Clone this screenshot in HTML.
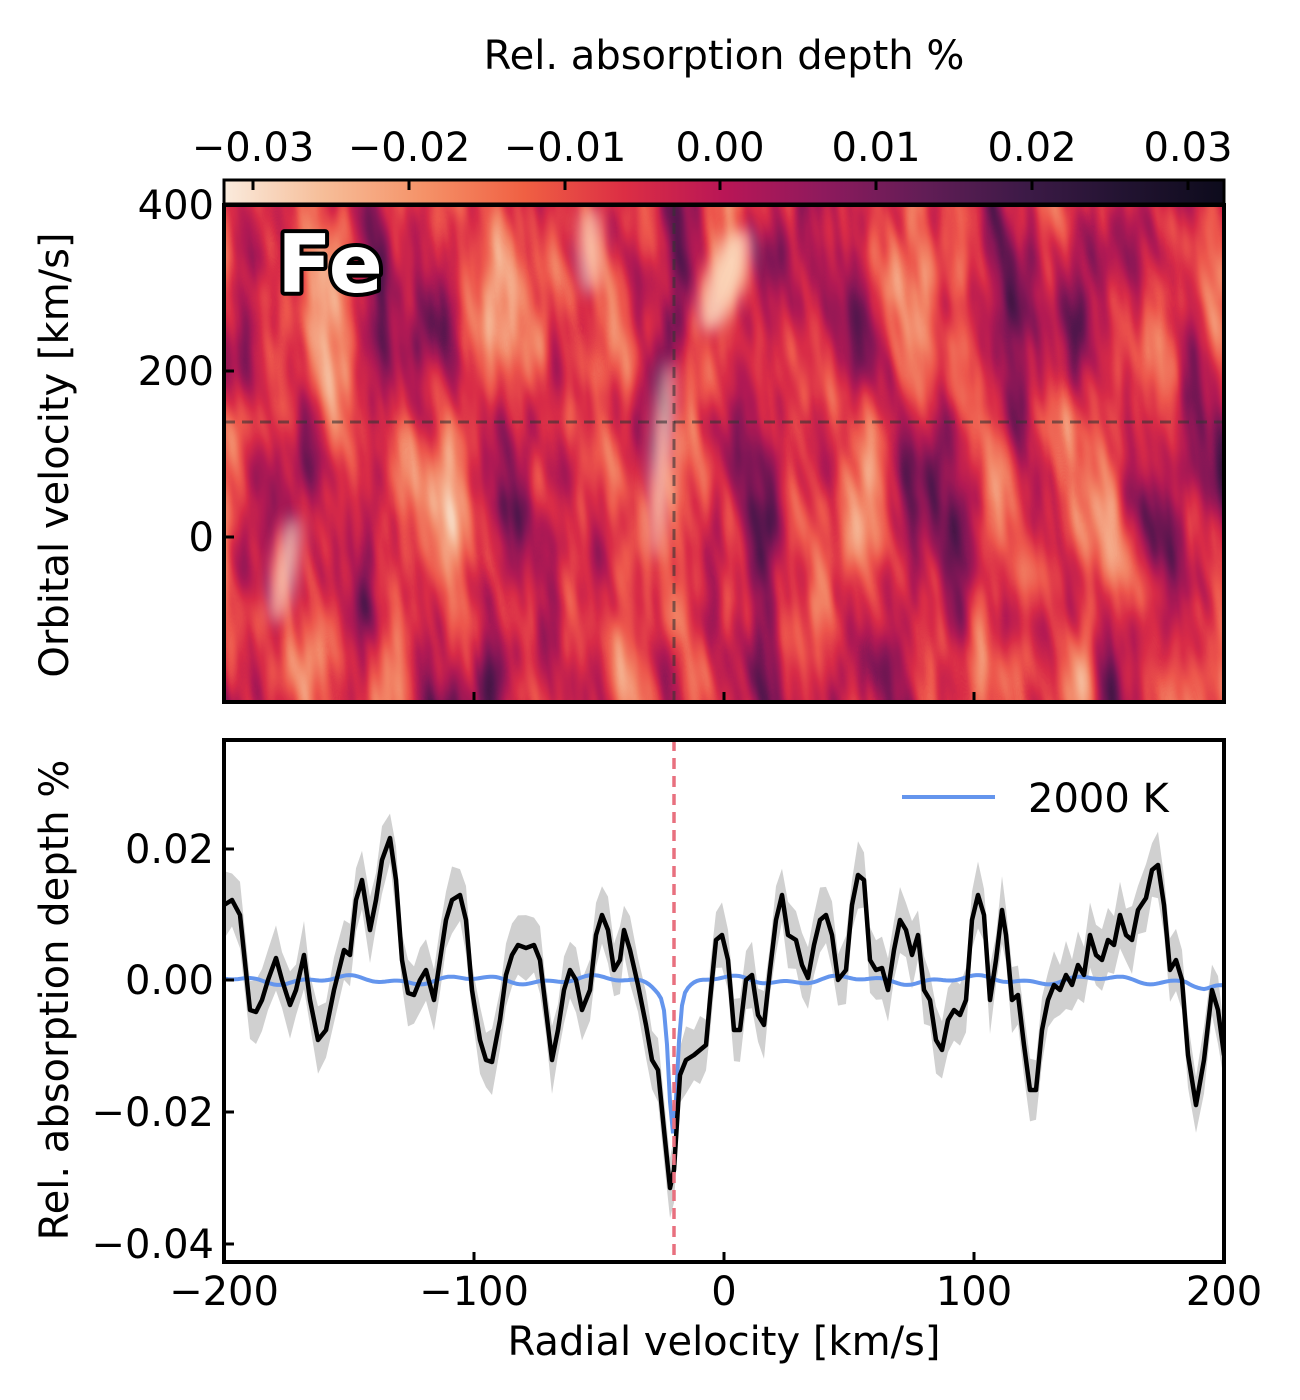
<!DOCTYPE html>
<html><head><meta charset="utf-8"><style>
html,body{margin:0;padding:0;background:#fff}
svg{display:block}
text{font-family:"DejaVu Sans","Liberation Sans",sans-serif;fill:#000}
</style></head><body>
<svg id="s" width="1300" height="1400" viewBox="0 0 1300 1400" xmlns="http://www.w3.org/2000/svg">
<defs>
<linearGradient id="cb" x1="0" x2="1" y1="0" y2="0">
<stop offset="0" stop-color="#faebdd"/><stop offset="0.1" stop-color="#f6bd98"/><stop offset="0.2" stop-color="#f59268"/>
<stop offset="0.3" stop-color="#f06043"/><stop offset="0.4" stop-color="#dc2e44"/><stop offset="0.5" stop-color="#b91656"/>
<stop offset="0.6" stop-color="#8e1a5d"/><stop offset="0.7" stop-color="#621d56"/><stop offset="0.8" stop-color="#3d1a47"/>
<stop offset="0.9" stop-color="#221331"/><stop offset="1" stop-color="#0d0b1c"/></linearGradient>
<clipPath id="hc"><rect x="224" y="205" width="1000" height="497"/></clipPath>
<clipPath id="bc"><rect x="224" y="740" width="1000" height="522"/></clipPath>
<filter id="tf" x="-200" y="0" width="1800" height="800" filterUnits="userSpaceOnUse" color-interpolation-filters="sRGB">
<feTurbulence type="fractalNoise" baseFrequency="0.022 0.005" numOctaves="3" seed="11"/>
<feColorMatrix type="matrix" values="1 0 0 0 0 1 0 0 0 0 1 0 0 0 0 0 0 0 0 1"/>
<feComponentTransfer>
<feFuncR type="table" tableValues="0.98 0.97 0.96 0.95 0.93 0.85 0.70 0.52 0.32 0.16 0.08"/>
<feFuncG type="table" tableValues="0.90 0.82 0.68 0.52 0.34 0.17 0.10 0.09 0.09 0.07 0.05"/>
<feFuncB type="table" tableValues="0.84 0.72 0.55 0.40 0.30 0.28 0.33 0.34 0.30 0.20 0.12"/>
</feComponentTransfer></filter>
<filter id="bl" x="-1" y="-1" width="3" height="3"><feGaussianBlur stdDeviation="8"/></filter>
</defs>

<!-- heatmap -->
<g clip-path="url(#hc)">
<rect x="224" y="205" width="1000" height="497" fill="#c8204f"/>
<g transform="skewX(6)">
<rect x="0" y="200" width="1400" height="510" filter="url(#tf)"/>
</g>
<g filter="url(#bl)" fill="#fbdcc0" opacity="0.9">
<ellipse cx="662" cy="460" rx="9" ry="100" transform="rotate(4 662 460)"/>
<ellipse cx="725" cy="280" rx="18" ry="55" transform="rotate(20 725 280)"/>
<ellipse cx="285" cy="570" rx="10" ry="55" transform="rotate(10 285 570)"/>
<ellipse cx="590" cy="250" rx="10" ry="45"/>
</g>
<line x1="674" y1="205" x2="674" y2="702" stroke="#333" stroke-opacity="0.6" stroke-width="3" stroke-dasharray="11,7"/>
<line x1="224" y1="422" x2="1224" y2="422" stroke="#333" stroke-opacity="0.6" stroke-width="3" stroke-dasharray="11,7"/>
</g>
<text x="330" y="292" font-size="80" font-weight="bold" text-anchor="middle" style="fill:#fff;stroke:#000;stroke-width:8;paint-order:stroke;stroke-linejoin:round">Fe</text>
<rect x="224" y="205" width="1000" height="497" fill="none" stroke="#000" stroke-width="4"/>
<g stroke="#000" stroke-width="3">
<line x1="224" y1="205" x2="234" y2="205"/><line x1="224" y1="371" x2="234" y2="371"/><line x1="224" y1="537" x2="234" y2="537"/>
<line x1="474" y1="702" x2="474" y2="692"/><line x1="724" y1="702" x2="724" y2="692"/><line x1="974" y1="702" x2="974" y2="692"/>
</g>
<g font-size="40" text-anchor="end">
<text x="214" y="219">400</text><text x="214" y="385">200</text><text x="214" y="551">0</text>
</g>
<text transform="translate(68,455) rotate(-90)" font-size="40" text-anchor="middle">Orbital velocity [km/s]</text>

<!-- colorbar -->
<rect x="224" y="180" width="1000" height="24" fill="url(#cb)" stroke="#000" stroke-width="3"/>
<g stroke="#000" stroke-width="3">
<line x1="253" y1="180" x2="253" y2="190"/><line x1="409" y1="180" x2="409" y2="190"/><line x1="565" y1="180" x2="565" y2="190"/>
<line x1="720" y1="180" x2="720" y2="190"/><line x1="876" y1="180" x2="876" y2="190"/><line x1="1032" y1="180" x2="1032" y2="190"/><line x1="1188" y1="180" x2="1188" y2="190"/>
</g>
<g font-size="40" text-anchor="middle">
<text x="253" y="161">−0.03</text><text x="409" y="161">−0.02</text><text x="565" y="161">−0.01</text>
<text x="720" y="161">0.00</text><text x="876" y="161">0.01</text><text x="1032" y="161">0.02</text><text x="1188" y="161">0.03</text>
</g>
<text x="724" y="69" font-size="40" text-anchor="middle">Rel. absorption depth %</text>

<!-- bottom -->
<g clip-path="url(#bc)">
<polygon id="band" fill="#d0d0d0"/>
<polyline id="blue" fill="none" stroke="#6495ed" stroke-width="4"/>
<polyline id="blk" fill="none" stroke="#000" stroke-width="4.5" stroke-linejoin="round"/>
<line x1="674" y1="740" x2="674" y2="1262" stroke="#e8707f" stroke-width="3.5" stroke-dasharray="11,7"/>
</g>
<rect x="224" y="740" width="1000" height="522" fill="none" stroke="#000" stroke-width="4"/>
<g stroke="#000" stroke-width="3">
<line x1="224" y1="849" x2="234" y2="849"/><line x1="224" y1="980" x2="234" y2="980"/><line x1="224" y1="1112" x2="234" y2="1112"/><line x1="224" y1="1244" x2="234" y2="1244"/>
<line x1="474" y1="1262" x2="474" y2="1252"/><line x1="724" y1="1262" x2="724" y2="1252"/><line x1="974" y1="1262" x2="974" y2="1252"/>
</g>
<g font-size="40" text-anchor="end">
<text x="214" y="863">0.02</text><text x="214" y="994">0.00</text><text x="214" y="1126">−0.02</text><text x="214" y="1258">−0.04</text>
</g>
<g font-size="40" text-anchor="middle">
<text x="224" y="1305">−200</text><text x="474" y="1305">−100</text><text x="724" y="1305">0</text><text x="974" y="1305">100</text><text x="1224" y="1305">200</text>
</g>
<text x="724" y="1355" font-size="40" text-anchor="middle">Radial velocity [km/s]</text>
<text transform="translate(68,1000) rotate(-90)" font-size="40" text-anchor="middle">Rel. absorption depth %</text>
<line x1="902" y1="797" x2="995" y2="797" stroke="#6495ed" stroke-width="4"/>
<text x="1028" y="812" font-size="40">2000 K</text>
</svg>
<script>
var P=[[220,905],[224,905],[232,900],[240,915],[250,1010],[256,1012],[262,1000],[268,980],[276,958],[282,980],[290,1005],[296,990],[304,955],[310,1000],[318,1040],[326,1030],[334,990],[344,950],[350,955],[356,900],[362,880],[370,930],[376,900],[382,860],[390,838],[396,880],[402,960],[408,993],[414,995],[420,980],[426,970],[434,1000],[440,960],[446,920],[452,900],[460,895],[466,920],[472,990],[480,1040],[486,1060],[492,1062],[500,1020],[506,975],[512,955],[518,945],[526,948],[534,945],[540,960],[546,1010],[552,1060],[558,1030],[564,990],[570,970],[576,980],[582,1010],[590,990],[596,935],[602,915],[608,930],[614,970],[620,960],[624,930],[630,950],[638,985],[646,1025],[652,1060],[658,1070],[664,1130],[670,1188],[674,1170],[680,1075],[686,1060],[694,1055],[700,1050],[706,1045],[710,1000],[716,940],[722,935],[728,960],[734,1030],[740,1030],[746,980],[752,975],[758,1015],[764,1025],[770,970],[776,920],[782,895],[788,935],[796,940],[802,965],[808,978],[814,945],[820,920],[826,915],[832,935],[838,980],[846,970],[852,905],[858,875],[864,880],[870,960],[876,970],[882,968],[888,990],[894,950],[900,920],[906,930],[912,955],[918,935],[924,990],[930,1000],[936,1040],[942,1050],[948,1020],[954,1010],[960,1015],[966,1000],[972,920],[978,895],[984,915],[990,1000],[996,960],[1002,910],[1006,935],[1012,1000],[1018,995],[1024,1045],[1030,1090],[1036,1090],[1042,1030],[1048,1000],[1054,985],[1060,990],[1066,975],[1072,985],[1078,965],[1084,975],[1090,935],[1096,955],[1102,960],[1108,940],[1114,945],[1120,915],[1126,935],[1132,940],[1138,910],[1146,898],[1152,870],[1158,865],[1164,905],[1170,970],[1176,960],[1182,980],[1188,1055],[1196,1105],[1204,1060],[1212,990],[1218,1010],[1224,1055],[1230,1060]];
document.getElementById('blk').setAttribute('points',P.map(function(p){return p.join(',')}).join(' '));
var up=[],lo=[];
for(var i=0;i<P.length;i++){var w=24+10*Math.abs(Math.sin(i*1.7));up.push(P[i][0]+','+(P[i][1]-w));lo.unshift(P[i][0]+','+(P[i][1]+w));}
document.getElementById('band').setAttribute('points',up.concat(lo).join(' '));
var B=[];
for(var x=220;x<=1230;x+=3){var y=980+3*Math.sin(x*0.05)-2*Math.sin(x*0.13);var d=x-673;
y+=130*Math.exp(-d*d/(2*4*4))+20*Math.exp(-d*d/(2*12*12));
if(x>1185){y+=Math.min(10,(x-1185)*0.5);}B.push(x+','+y.toFixed(1));}
document.getElementById('blue').setAttribute('points',B.join(' '));
</script>
</body></html>
